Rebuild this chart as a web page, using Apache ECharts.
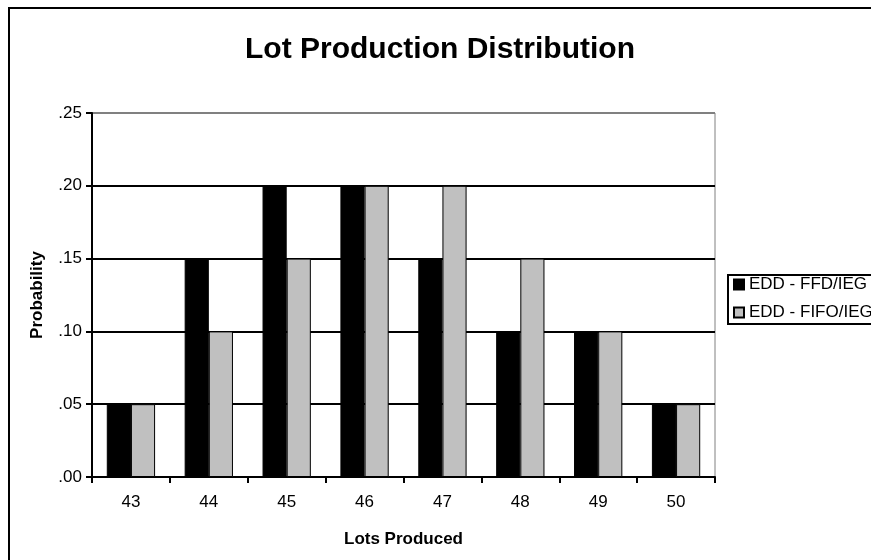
<!DOCTYPE html>
<html>
<head>
<meta charset="utf-8">
<script src="https://cdn.jsdelivr.net/npm/echarts@6/dist/echarts.min.js"></script>
<style>html,body{margin:0;padding:0;background:#fff}#c{width:871px;height:560px}</style>
</head>
<body>
<div id="c"></div>
<script>
const categories = ['43','44','45','46','47','48','49','50'];
const seriesNames = ['EDD - FFD/IEG','EDD - FIFO/IEG'];
const ffdValues = [0.05,0.15,0.20,0.20,0.15,0.10,0.10,0.05];
const fifoValues = [0.05,0.10,0.15,0.20,0.20,0.15,0.10,0.05];
const yTicks = ['.00','.05','.10','.15','.20','.25'];

const FONT = '"Liberation Sans", Arial, sans-serif';
const chart = echarts.init(document.getElementById('c'));
chart.setOption({
  animation: false,
  textStyle: { fontFamily: FONT },
  graphic: [{
    type: 'rect', z: -10,
    shape: { x: 9, y: 8, width: 900, height: 600 },
    style: { fill: '#fff', stroke: '#000', lineWidth: 2 }
  }],
  title: {
    text: 'Lot Production Distribution',
    left: 435, top: 30, textAlign: 'center',
    textStyle: { fontFamily: FONT, fontSize: 30, fontWeight: 'bold', color: '#000' }
  },
  legend: {
    orient: 'vertical', left: 728, top: 275,
    data: seriesNames,
    icon: 'rect', itemWidth: 10, itemHeight: 10, itemGap: 11,
    padding: [1, 12, 3, 5],
    borderColor: '#000', borderWidth: 2,
    textStyle: { fontFamily: FONT, fontSize: 17, color: '#000' }
  },
  grid: { left: 92, top: 113, right: 156, bottom: 83, show: true, borderColor: '#808080', borderWidth: 1, backgroundColor: 'transparent' },
  xAxis: {
    type: 'category', data: categories,
    name: 'Lots Produced', nameLocation: 'middle', nameGap: 54,
    nameTextStyle: { fontFamily: FONT, fontSize: 17, fontWeight: 'bold', color: '#000' },
    axisLine: { lineStyle: { color: '#000', width: 2 } },
    axisTick: { show: true, length: 6, lineStyle: { color: '#000', width: 2 } },
    axisLabel: { fontFamily: FONT, fontSize: 17, color: '#000', margin: 17 }
  },
  yAxis: {
    type: 'value', min: 0, max: 0.25, interval: 0.05,
    name: 'Probability', nameLocation: 'middle', nameGap: 46, nameRotate: 90,
    nameTextStyle: { fontFamily: FONT, fontSize: 17, fontWeight: 'bold', color: '#000' },
    axisLine: { show: true, lineStyle: { color: '#000', width: 2 } },
    axisTick: { show: true, length: 6, lineStyle: { color: '#000', width: 2 } },
    axisLabel: { fontFamily: FONT, fontSize: 17, color: '#000', margin: 10,
      formatter: (v) => yTicks[Math.round(v / 0.05)] },
    splitLine: { show: true, lineStyle: { color: ['#000','#000','#000','#000','#000','#808080'], width: 2 } }
  },
  series: [
    { name: seriesNames[0], type: 'bar', data: ffdValues, barWidth: '31%', barGap: '0%',
      itemStyle: { color: '#000', borderColor: '#000', borderWidth: 1 } },
    { name: seriesNames[1], type: 'bar', data: fifoValues, barWidth: '31%', barGap: '0%',
      itemStyle: { color: '#c0c0c0', borderColor: '#000', borderWidth: 1 } }
  ]
});
</script>
</body>
</html>
